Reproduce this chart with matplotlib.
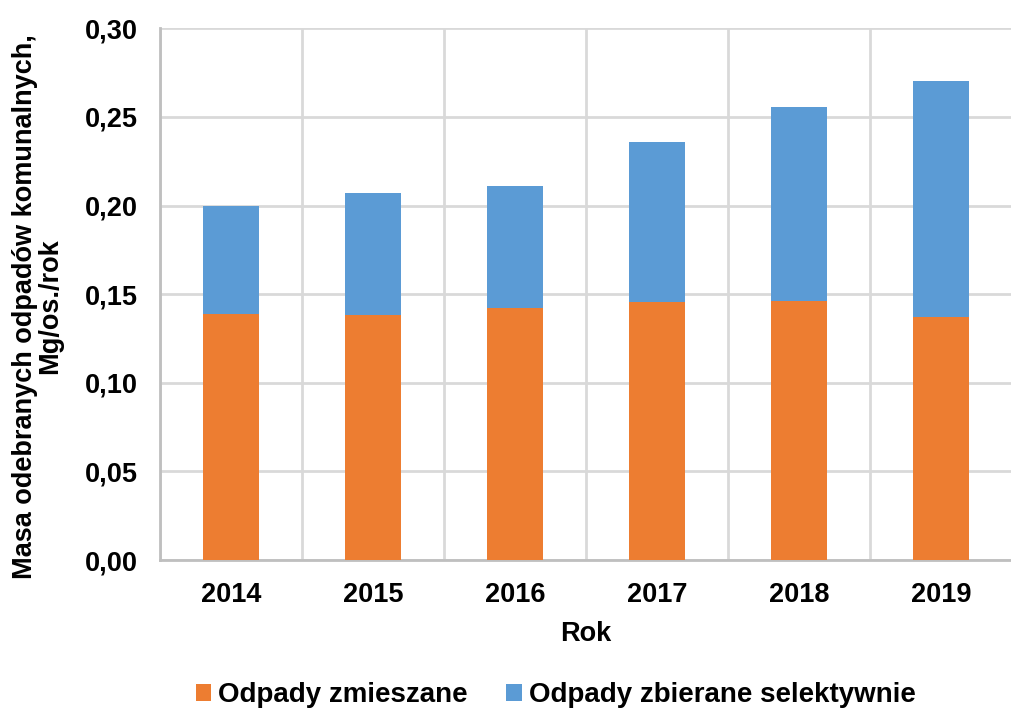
import matplotlib.pyplot as plt
from matplotlib.ticker import FuncFormatter

years = ['2014', '2015', '2016', '2017', '2018', '2019']
zmieszane = [0.139, 0.138, 0.142, 0.1455, 0.146, 0.137]
selektywne = [0.061, 0.069, 0.069, 0.0905, 0.1095, 0.1335]

plt.rcParams['font.family'] = ['Liberation Sans', 'DejaVu Sans']
plt.rcParams['font.weight'] = 'bold'
fs = 19.5

fig = plt.figure(figsize=(10.12, 7.08), dpi=100)
ax = fig.add_axes([0.158, 0.209, 0.842, 0.751])

x = range(len(years))
ax.bar(x, zmieszane, width=0.4, color='#ED7D31', label='Odpady zmieszane', zorder=3)
ax.bar(x, selektywne, width=0.4, bottom=zmieszane, color='#5B9BD5',
       label='Odpady zbierane selektywnie', zorder=3)

ax.set_ylim(0, 0.30)
ax.set_yticks([0, 0.05, 0.10, 0.15, 0.20, 0.25, 0.30])
ax.yaxis.set_major_formatter(FuncFormatter(lambda v, p: f'{v:.2f}'.replace('.', ',')))
ax.set_xlim(-0.5, 5.41)
ax.set_xticks(list(x))
ax.set_xticklabels(years)
# vertical grid between categories
ax.set_xticks([i + 0.5 for i in range(-1, 6)], minor=True)
ax.grid(axis='y', color='#D9D9D9', linewidth=2, zorder=0)
ax.grid(axis='x', which='minor', color='#D9D9D9', linewidth=2, zorder=0)
ax.tick_params(axis='both', which='both', length=0, labelsize=fs, pad=16)

for s in ['top', 'right']:
    ax.spines[s].set_visible(False)
for s in ['left', 'bottom']:
    ax.spines[s].set_color('#BFBFBF')
    ax.spines[s].set_linewidth(2)

ax.set_xlabel('Rok', fontsize=fs, fontweight='bold', labelpad=9)
ax.set_ylabel('Masa odebranych odpadów komunalnych,\nMg/os./rok', fontsize=fs,
              fontweight='bold', linespacing=0.93)
ax.yaxis.set_label_coords(-0.114, 0.477)

fig.legend(loc='lower center', bbox_to_anchor=(0.549, -0.036), ncol=2, frameon=False,
           fontsize=20, handlelength=0.55, handleheight=0.55, handletextpad=0.25,
           columnspacing=1.4)

fig.savefig('out.png', dpi=100)
